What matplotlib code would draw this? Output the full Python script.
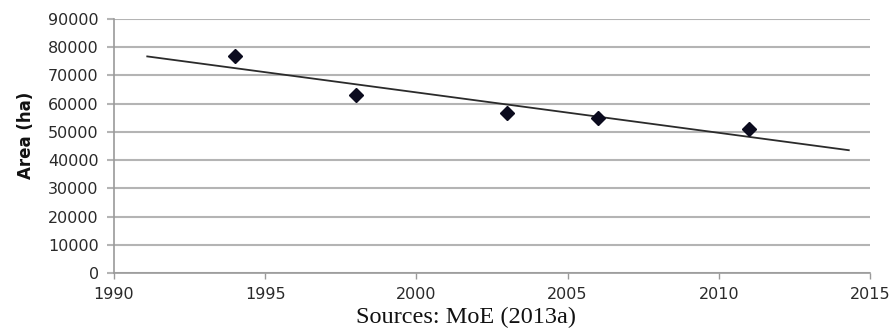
"""
Forest area over time with a linear trend line.
"""
import matplotlib.pyplot as plt
import numpy as np

# Survey years and measured area (ha)
years = [1994, 1998, 2003, 2006, 2011]
area_ha = [77000, 63100, 56700, 55000, 51000]

# Span of the fitted trend line (years)
trend_span = [1991.1, 2014.3]

x_ticks = [1990, 1995, 2000, 2005, 2010, 2015]
y_ticks = [0, 10000, 20000, 30000, 40000, 50000, 60000, 70000, 80000, 90000]

grid_grey = '#b4b4b4'
axis_grey = '#9a9a9a'

fig = plt.figure(figsize=(8.92, 3.34), dpi=100)
ax = fig.add_axes([0.1278, 0.1826, 0.8475, 0.7605])

# Linear trend fitted to the measurements
slope, intercept = np.polyfit(years, area_ha, 1)
trend_x = np.array(trend_span)
ax.plot(trend_x, slope * trend_x + intercept, color='#2b2b2b', linewidth=1.3, zorder=3)

# Measured points
ax.plot(years, area_ha, linestyle='none', marker='D', markersize=7,
        color='#0b0b1e', markeredgecolor='#0b0b1e', zorder=4)

ax.set_xlim(x_ticks[0], x_ticks[-1])
ax.set_ylim(y_ticks[0], y_ticks[-1])
ax.set_xticks(x_ticks)
ax.set_yticks(y_ticks)

ax.grid(True, axis='y', color=grid_grey, linewidth=1.5)
ax.set_axisbelow(True)

for spine in ['top', 'right']:
    ax.spines[spine].set_visible(False)
for spine in ['left', 'bottom']:
    ax.spines[spine].set_color(axis_grey)
    ax.spines[spine].set_linewidth(1.2)

ax.tick_params(axis='y', length=5, width=1.5, color=grid_grey, pad=6,
               labelsize=11.5, labelcolor='#2a2a2a')
ax.tick_params(axis='x', length=4, width=1.0, color=axis_grey, pad=6,
               labelsize=11.5, labelcolor='#2a2a2a')

ax.set_ylabel('Area (ha)', fontsize=12, fontweight='bold', color='#111111')
ax.yaxis.set_label_coords(-0.104, 0.54)

fig.text(0.522, 0.05, 'Sources: MoE (2013a)', family='Liberation Serif',
         fontsize=17.5, ha='center', va='center', color='#111111')

plt.savefig('out.png', dpi=100, facecolor='white')
plt.close()
